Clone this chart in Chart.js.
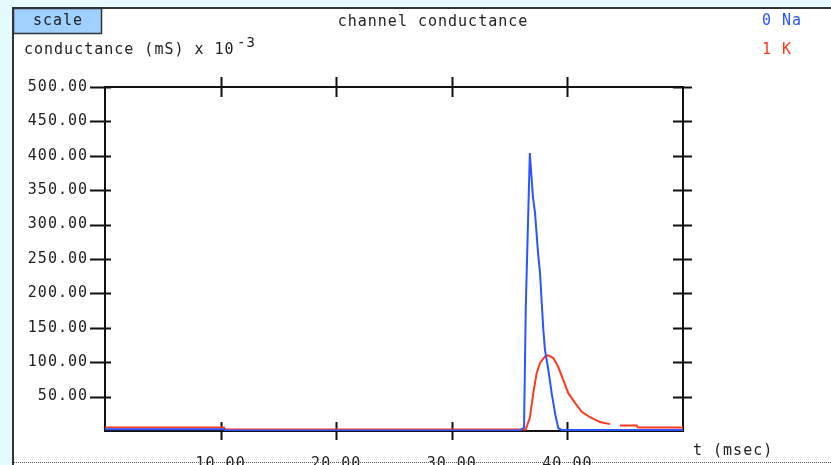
<!DOCTYPE html>
<html>
<head>
<meta charset="utf-8">
<script src="https://cdn.jsdelivr.net/npm/chart.js@4/dist/chart.umd.min.js"></script>
<style>
  html, body { margin: 0; padding: 0; background: #e4faff; }
  canvas { display: block; }
</style>
</head>
<body>
<canvas id="conductanceChart" width="831" height="465"></canvas>
<script>
// time (msec) and conductance (mS x 10^-3) for the Na channel
const naTime  = [0, 10.3, 10.4, 35.9, 36.25, 36.4, 36.75, 37.02, 37.2, 37.46, 37.63, 37.78, 37.92, 38.06, 38.35, 38.64, 38.93, 39.21, 39.5, 50];
const naValue = [2.5, 2.5, 0.8, 0.8, 5, 180, 404, 340, 317, 259, 230, 186, 147, 118, 89, 55, 26, 4, 1.5, 1.5];

// time (msec) and conductance for the K channel (null = gap in trace)
const kTime  = [0, 10.3, 10.4, 36.4, 36.76, 37.05, 37.34, 37.63, 38.06, 38.35, 38.78, 39.21, 39.65, 40.08, 40.66, 41.24, 41.96, 42.82, 43.69, 44.1, 44.55, 46.0, 46.1, 50];
const kValue = [5, 5, 2, 2, 20, 55, 84, 99, 108, 110, 106, 93, 74, 55, 41, 28, 20, 13, 10, null, 8, 8, 5, 5];

const xTicks = [10, 20, 30, 40];
const yTicks = [50, 100, 150, 200, 250, 300, 350, 400, 450, 500];

const FONT = '"DejaVu Sans Mono", "Liberation Mono", monospace';
const INK = '#222';

function points(xs, ys) {
  return xs.map((x, i) => ({ x: x, y: ys[i] }));
}

// window frame, button, captions and tick marks
const framePlugin = {
  id: 'frame',
  beforeDraw(chart) {
    const ctx = chart.ctx;
    const w = chart.width, h = chart.height;
    ctx.save();
    ctx.fillStyle = '#e4faff';
    ctx.fillRect(0, 0, w, h);
    ctx.fillStyle = '#ffffff';
    ctx.fillRect(13, 8, w - 13, h - 8);
    ctx.strokeStyle = '#333';
    ctx.lineWidth = 2;
    ctx.beginPath();
    ctx.moveTo(13, h);
    ctx.lineTo(13, 8);
    ctx.lineTo(w, 8);
    ctx.stroke();
    ctx.restore();
    ctx.letterSpacing = '1px';
  },
  beforeDatasetsDraw(chart) {
    const ctx = chart.ctx;
    const a = chart.chartArea;
    const xs = chart.scales.x, ys = chart.scales.y;
    ctx.save();
    ctx.strokeStyle = '#111';
    ctx.lineWidth = 2;
    ctx.strokeRect(a.left, a.top, a.right - a.left, a.bottom - a.top);
    ctx.beginPath();
    yTicks.forEach(v => {
      const y = Math.round(ys.getPixelForValue(v)) + 0.5;
      ctx.moveTo(a.left - 15, y); ctx.lineTo(a.left + 6, y);
      ctx.moveTo(a.right - 10, y); ctx.lineTo(a.right + 9, y);
    });
    xTicks.forEach(v => {
      const x = Math.round(xs.getPixelForValue(v)) + 0.5;
      ctx.moveTo(x, a.top - 10); ctx.lineTo(x, a.top + 10);
      ctx.moveTo(x, a.bottom - 9); ctx.lineTo(x, a.bottom + 9);
    });
    ctx.stroke();
    ctx.restore();
  },
  afterDraw(chart) {
    const ctx = chart.ctx;
    const w = chart.width;
    ctx.save();
    ctx.letterSpacing = '1px';
    ctx.textBaseline = 'middle';

    // "scale" button
    ctx.fillStyle = '#9fd0ff';
    ctx.fillRect(13, 8, 89, 26);
    ctx.strokeStyle = '#333';
    ctx.lineWidth = 1.5;
    ctx.strokeRect(13.5, 8.5, 88, 25);
    ctx.fillStyle = INK;
    ctx.font = '15px ' + FONT;
    ctx.textAlign = 'center';
    ctx.fillText('scale', 58, 21);

    ctx.fillText('channel conductance', 433, 22);

    ctx.textAlign = 'left';
    ctx.fillText('conductance (mS) x 10', 24, 50);
    ctx.font = '14px ' + FONT;
    ctx.fillText('-3', 237, 43);

    ctx.font = '15px ' + FONT;
    ctx.fillStyle = '#2a55ff';
    ctx.fillText('0 Na', 762, 21);
    ctx.fillStyle = '#ff3a1e';
    ctx.fillText('1 K', 762, 50);

    ctx.fillStyle = INK;
    ctx.fillText('t (msec)', 693, 451);

    // dotted lower edge of the panel
    ctx.strokeStyle = '#555';
    ctx.lineWidth = 1;
    ctx.setLineDash([1, 1]);
    ctx.beginPath();
    ctx.moveTo(14, 462.5);
    ctx.lineTo(w, 462.5);
    ctx.stroke();
    ctx.restore();
  }
};

new Chart(document.getElementById('conductanceChart'), {
  type: 'line',
  data: {
    datasets: [{
      label: 'Na',
      data: points(naTime, naValue),
      borderColor: '#2a55ff',
      borderWidth: 2,
      pointRadius: 0,
      tension: 0,
      spanGaps: false
    }, {
      label: 'K',
      data: points(kTime, kValue),
      borderColor: '#ff3a1e',
      borderWidth: 2,
      pointRadius: 0,
      tension: 0,
      spanGaps: false
    }]
  },
  options: {
    responsive: false,
    animation: false,
    devicePixelRatio: 1,
    layout: {
      padding: { left: 0, top: 87, right: 148, bottom: 0 }
    },
    plugins: {
      legend: { display: false },
      tooltip: { enabled: false }
    },
    scales: {
      x: {
        type: 'linear',
        min: 0,
        max: 50,
        afterBuildTicks: s => { s.ticks = xTicks.map(v => ({ value: v })); },
        afterFit: s => { s.height = 34; },
        grid: { display: false, drawTicks: false },
        border: { display: false },
        ticks: {
          padding: 24,
          color: INK,
          font: { family: FONT, size: 15 },
          maxRotation: 0,
          callback: v => v.toFixed(2)
        }
      },
      y: {
        type: 'linear',
        min: 0,
        max: 500,
        afterBuildTicks: s => { s.ticks = yTicks.map(v => ({ value: v })); },
        afterFit: s => { s.width = 105; },
        grid: { display: false, drawTicks: false },
        border: { display: false },
        ticks: {
          padding: 17,
          color: INK,
          font: { family: FONT, size: 15 },
          callback: v => v.toFixed(2)
        }
      }
    }
  },
  plugins: [framePlugin]
});
</script>
</body>
</html>
